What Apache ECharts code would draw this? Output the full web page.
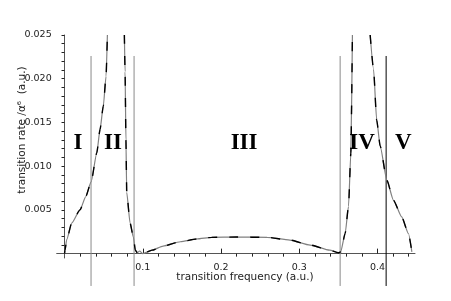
<!DOCTYPE html>
<html>
<head>
<meta charset="utf-8">
<script src="https://cdn.jsdelivr.net/npm/echarts@6/dist/echarts.min.js"></script>
<style>html,body{margin:0;padding:0;background:#fff}#c{width:451px;height:301px}</style>
</head>
<body>
<div id="c"></div>
<script>
// transition frequency (a.u.) and transition rate (a.u.); null = curve leaves the plot
var freq = [0, 0.0006, 0.0028, 0.0092, 0.0198, 0.027, 0.034, 0.0412, 0.0454, 0.0496, 0.0531, 0.0548,
  null,
  0.0765, 0.0774, 0.0785, 0.0795, 0.0838, 0.088, 0.0905, 0.093, 0.096, 0.1, 0.112, 0.126, 0.148, 0.169, 0.188,
  0.22, 0.259, 0.288, 0.314, 0.339, 0.35, 0.353, 0.3587, 0.363, 0.366, 0.368,
  null,
  0.3907, 0.395, 0.399, 0.4035, 0.412, 0.4205, 0.431, 0.4396, 0.444];
var rate = [0, 0.0004, 0.0016, 0.0035, 0.0050, 0.0065, 0.0082, 0.0115, 0.0142, 0.0169, 0.0203, 0.025,
  null,
  0.025, 0.0208, 0.013, 0.0070, 0.0035, 0.0019, 0.0004, 0.0001, 0.0003, 0.0, 0.0004, 0.00086, 0.00136, 0.00167, 0.00186,
  0.0019, 0.00186, 0.00155, 0.00098, 0.0004, 0.0001, 0.0002, 0.0023, 0.0054, 0.0115, 0.025,
  null,
  0.025, 0.0211, 0.0153, 0.0123, 0.0084, 0.0061, 0.0042, 0.0023, 0.0002];
// region boundaries (frequency)
var boundaries = [0.0339, 0.0889, 0.3523, 0.4111];
var boundaryColors = ['#8a8a8a', '#8a8a8a', '#8a8a8a', '#000000'];
var boundaryTop = 0.0226, boundaryBottom = -0.0037;
// region labels
var regionNames = ['I', 'II', 'III', 'IV', 'V'];
var regionX = [0.0173, 0.062, 0.2295, 0.3804, 0.4329];
var regionY = 0.0126;
// ticks
var xMajor = [0.1, 0.2, 0.3, 0.4];
var xMinor = [0.02, 0.04, 0.06, 0.08, 0.12, 0.14, 0.16, 0.18, 0.22, 0.24, 0.26, 0.28, 0.32, 0.34, 0.36, 0.38, 0.42, 0.44];
var yMajor = [0.005, 0.010, 0.015, 0.020, 0.025];
var yMinor = [0.001, 0.002, 0.003, 0.004, 0.006, 0.007, 0.008, 0.009, 0.011, 0.012, 0.013, 0.014, 0.016, 0.017, 0.018, 0.019, 0.021, 0.022, 0.023, 0.024];

var curve = freq.map(function (f, i) { return f === null ? [null, null] : [f, rate[i]]; });
var font = 'DejaVu Sans';
var axisCol = '#555';

var series = [
  { type: 'line', data: curve, xAxisIndex: 0, yAxisIndex: 0, showSymbol: false, smooth: 0.2, smoothMonotone: 'x', connectNulls: false,
    lineStyle: { color: '#808080', width: 1.2 }, z: 3, silent: true },
  { type: 'line', data: curve, xAxisIndex: 0, yAxisIndex: 0, showSymbol: false, smooth: 0.2, smoothMonotone: 'x', connectNulls: false,
    lineStyle: { color: '#000', width: 1.4, type: [9, 12] }, z: 4, silent: true }
];
boundaries.forEach(function (b, i) {
  series.push({ type: 'line', data: [[b, boundaryTop], [b, boundaryBottom]], clip: false, showSymbol: false,
    lineStyle: { color: boundaryColors[i], width: 1 }, z: 2, silent: true });
});

var chart = echarts.init(document.getElementById('c'), null, { renderer: 'canvas' });
chart.setOption({
  animation: false,
  backgroundColor: '#fff',
  grid: { left: 56.7, right: 36, top: 35, bottom: 43, containLabel: false },
  xAxis: [
    { type: 'value', min: -0.01, max: 0.448,
      axisLine: { onZero: true, lineStyle: { color: axisCol, width: 1 } },
      axisTick: { inside: true, length: 5, customValues: xMajor, lineStyle: { color: '#222' } },
      axisLabel: { customValues: xMajor, formatter: function (v) { return v.toFixed(1); }, margin: 5,
        fontFamily: font, fontSize: 9.5, color: '#222' },
      splitLine: { show: false } },
    { type: 'value', min: -0.01, max: 0.448,
      axisLine: { show: false, onZero: true },
      axisTick: { inside: true, length: 3, customValues: xMinor, lineStyle: { color: '#222' } },
      axisLabel: { show: false }, splitLine: { show: false } }
  ],
  yAxis: [
    { type: 'value', min: -0.0005, max: 0.025,
      axisLine: { onZero: true, lineStyle: { color: axisCol, width: 1 } },
      axisTick: { inside: false, length: 3, customValues: yMajor, lineStyle: { color: '#222' } },
      axisLabel: { customValues: yMajor, formatter: function (v) { return v.toFixed(3); }, margin: 5,
        fontFamily: font, fontSize: 9.5, color: '#222' },
      splitLine: { show: false } },
    { type: 'value', min: -0.0005, max: 0.025,
      axisLine: { show: false, onZero: true },
      axisTick: { inside: true, length: 3, customValues: yMinor, lineStyle: { color: '#222' } },
      axisLabel: { show: false }, splitLine: { show: false } }
  ],
  series: series
});

var graphics = [
  { type: 'text', x: 245, y: 277,
    style: { text: 'transition frequency (a.u.)', fontFamily: font, fontSize: 10.5, fill: '#222', align: 'center', verticalAlign: 'middle' } },
  { type: 'text', x: 22, y: 130, rotation: Math.PI / 2,
    style: { text: 'transition rate /α⁶  (a.u.)', fontFamily: font, fontSize: 10.5, fill: '#222',
      align: 'center', verticalAlign: 'middle' } }
];
regionNames.forEach(function (n, i) {
  var p = chart.convertToPixel({ xAxisIndex: 0, yAxisIndex: 0 }, [regionX[i], regionY]);
  graphics.push({ type: 'text', x: p[0], y: p[1], z: 10,
    style: { text: n, fontFamily: 'Liberation Serif', fontWeight: 'bold', fontSize: 23, fill: '#000',
      align: 'center', verticalAlign: 'middle' } });
});
chart.setOption({ graphic: graphics });
</script>
</body>
</html>
